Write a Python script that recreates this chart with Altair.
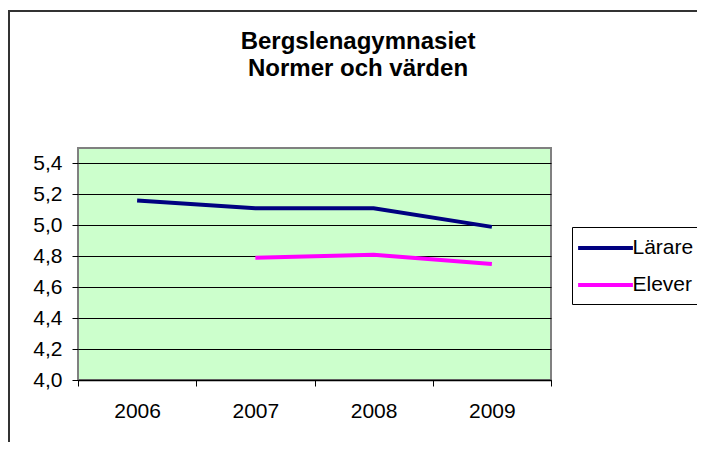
import altair as alt
import pandas as pd

years = ["2006", "2007", "2008", "2009"]
larare = [5.16, 5.11, 5.11, 4.99]
elever = [None, 4.79, 4.81, 4.75]
series_names = ["Lärare", "Elever"]
series_colors = ["#000080", "#FF00FF"]
title_lines = ["Bergslenagymnasiet", "Normer och värden"]
y_ticks = [4.0, 4.2, 4.4, 4.6, 4.8, 5.0, 5.2, 5.4]

rows = []
for name, vals in zip(series_names, [larare, elever]):
    for yr, v in zip(years, vals):
        if v is not None:
            rows.append({"year": yr, "value": v, "series": name})
df = pd.DataFrame(rows)

FONT = "Liberation Sans"
W, H = 473, 232
FS = 21

lines = alt.Chart(df).mark_line(strokeWidth=4).encode(
    x=alt.X("year:N", sort=years,
            scale=alt.Scale(type="band", paddingInner=0, paddingOuter=0),
            axis=alt.Axis(title=None, labelAngle=0, tickBand="extent", grid=False,
                          domainColor="black", domainWidth=1.5, tickColor="black",
                          tickSize=6, labelPadding=14, labelFontSize=FS,
                          labelFont=FONT, labelColor="black")),
    y=alt.Y("value:Q",
            scale=alt.Scale(domain=[4.0, 5.5], nice=False, zero=False),
            axis=alt.Axis(title=None, values=y_ticks, domain=False,
                          labelExpr="replace(format(datum.value, '.1f'), '.', ',')",
                          gridColor="black", gridWidth=1, tickColor="black",
                          tickSize=6, labelPadding=10, labelFontSize=FS,
                          labelFont=FONT, labelColor="black")),
    color=alt.Color("series:N",
                    scale=alt.Scale(domain=series_names, range=series_colors),
                    legend=alt.Legend(title=None, orient="none", legendX=494, legendY=79,
                                      symbolType="M-2.74,0L2.74,0", symbolSize=400,
                                      symbolStrokeWidth=4, symbolOffset=12.5,
                                      labelFontSize=FS, labelFont=FONT, labelColor="black",
                                      labelOffset=15, rowPadding=15, padding=9,
                                      strokeColor="black", fillColor="white")),
)

frame = alt.Chart(pd.DataFrame({"k": [0]})).mark_rect(
    fill="transparent", stroke="#333333", strokeWidth=2
).encode(x=alt.value(-69), x2=alt.value(1500), y=alt.value(-137), y2=alt.value(1500))

t1 = alt.Chart(pd.DataFrame({"k": [0]})).mark_text(
    text=title_lines[0], font=FONT, fontSize=24, fontWeight="bold",
    align="center", baseline="alphabetic", color="black"
).encode(x=alt.value(280), y=alt.value(-99))
t2 = alt.Chart(pd.DataFrame({"k": [0]})).mark_text(
    text=title_lines[1], font=FONT, fontSize=24, fontWeight="bold",
    align="center", baseline="alphabetic", color="black"
).encode(x=alt.value(280), y=alt.value(-72))

chart = alt.layer(frame, lines, t1, t2).properties(
    width=W, height=H,
    autosize=alt.AutoSizeParams(type="none"),
    padding={"left": 70, "top": 140, "right": 146, "bottom": 62},
    background="white",
).configure_view(fill="#CCFFCC", stroke="#808080", strokeWidth=2)

chart.save("out.html", embed_options={"renderer": "svg", "actions": False})
